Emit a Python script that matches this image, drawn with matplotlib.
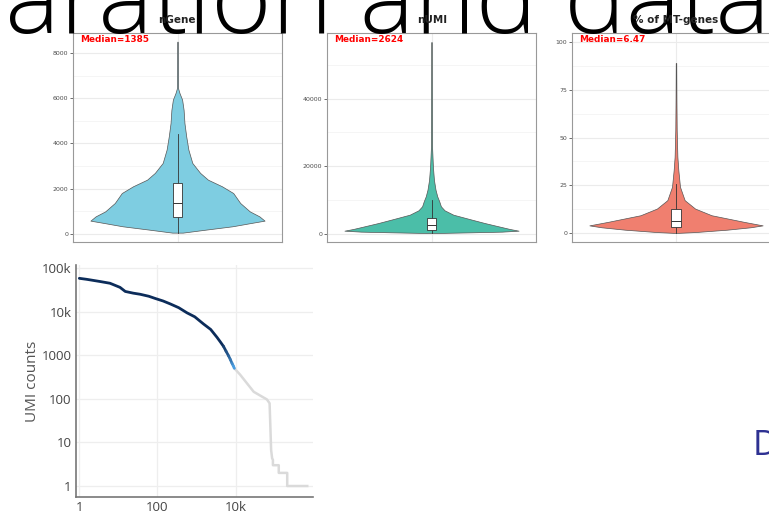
import numpy as np
import matplotlib.pyplot as plt
from matplotlib.collections import LineCollection
from matplotlib.colors import to_rgb

W, H = 769, 519

# violin profiles: value -> relative width (1 = widest)
ngene_vals = [60, 190, 340, 490, 590, 780, 1000, 1370, 1810, 2110, 2400, 2700, 3140, 3730,
              4320, 4900, 5490, 5940, 6230, 6450, 8500]
ngene_dens = [0.06, 0.32, 0.63, 0.85, 1.0, 0.94, 0.83, 0.72, 0.64, 0.51, 0.35, 0.26, 0.17, 0.125,
              0.10, 0.08, 0.07, 0.053, 0.023, 0.006, 0.003]
ngene_box = dict(whislo=60, q1=740, med=1385, q3=2250, whishi=4430)

numi_vals = [300, 500, 700, 985, 1480, 2270, 3250, 4400, 5710, 7000, 8180, 9650, 11130, 13100,
             16000, 20000, 26000, 56700]
numi_dens = [0.06, 0.46, 0.81, 1.0, 0.90, 0.77, 0.61, 0.44, 0.25, 0.15, 0.108, 0.089, 0.066, 0.046,
             0.028, 0.016, 0.006, 0.002]
numi_box = dict(whislo=300, q1=1280, med=2624, q3=4730, whishi=10150)

mt_vals = [0.1, 0.5, 1.75, 3.0, 4.0, 5.8, 9.3, 12.8, 17.2, 24.2, 32.9, 39.9, 54, 70, 89]
mt_dens = [0.034, 0.22, 0.59, 0.86, 1.0, 0.79, 0.41, 0.22, 0.10, 0.046, 0.027, 0.016, 0.008, 0.005, 0.003]
mt_box = dict(whislo=0.1, q1=3.15, med=6.47, q3=12.4, whishi=25.9)

# barcode rank plot
cell_rank = [1, 1.55, 3.4, 6.1, 11, 15, 24, 36, 60, 88, 140, 213, 350, 567, 900, 1510, 2300, 3340,
             4100, 4930]
cell_umi = [58000, 55000, 49000, 44700, 36000, 29000, 26500, 25000, 22500, 20000, 17500, 15000,
            12300, 9400, 7600, 5200, 3900, 2570, 2000, 1580]
mix_rank = [4930, 5700, 6630, 7300, 8100, 8700, 9300]
mix_umi = [1580, 1230, 960, 800, 650, 570, 500]
bg_rank = [9300, 13200, 19500, 29000, 43000, 63000, 74000, 77000, 81000, 86000, 90000, 90000,
           127000, 127000, 209000, 209000, 680000]
bg_umi = [500, 353, 227, 145, 118, 97, 79, 27, 6.7, 4.3, 4, 3, 3, 2, 2, 1, 1]

rank_ticks = [1, 100, 10000]
rank_labels = ["1", "100", "10k"]
umi_ticks = [1, 10, 100, 1000, 10000, 100000]
umi_labels = ["1", "10", "100", "1000", "10k", "100k"]


def px_axes(fig, l, t, r, b):
    return fig.add_axes([l / W, 1 - b / H, (r - l) / W, (b - t) / H])


fig = plt.figure(figsize=(W / 100, H / 100), dpi=100)

# slide title, cut off
big = fig.text(5 / W, 1 - 33 / H, "aration and data", fontsize=60, family="Open Sans",
               fontweight="light", color="black", va="baseline", ha="left", zorder=0)
r = fig.canvas.get_renderer()
wd = big.get_window_extent(r).width
big.set_fontsize(60 * 765 / wd)

fig.text(753 / W, 1 - 455 / H, "D", fontsize=25, family="Open Sans",
         color="#2e3192", va="baseline", ha="left")


def violin(box, vals, dens, st, color, ylim, yticks, minor, title, tcx):
    ax = px_axes(fig, *box)
    vals = np.array(vals)
    dens = np.array(dens)
    ax.fill_betweenx(vals, 1 - 0.5 * dens, 1 + 0.5 * dens, facecolor=color,
                     edgecolor="#555555", linewidth=0.5, zorder=2)
    bp = ax.bxp([dict(st, fliers=[])], positions=[1], widths=0.052, showfliers=False,
                patch_artist=True, showcaps=False)
    for b in bp["boxes"]:
        b.set(facecolor="white", edgecolor="#333333", linewidth=0.6, zorder=3)
    for w in bp["whiskers"]:
        w.set(color="#333333", linewidth=0.6, zorder=2.5)
    for m in bp["medians"]:
        m.set(color="#333333", linewidth=0.7, zorder=4)
    ax.set_xlim(0.4, 1.6)
    ax.set_ylim(*ylim)
    ax.set_xticks([1])
    ax.set_xticklabels([""])
    ax.set_yticks(yticks)
    ax.set_yticks(minor, minor=True)
    ax.tick_params(axis="x", length=0)
    ax.tick_params(axis="y", which="major", length=2, width=0.5, color="#333333",
                   labelsize=4.5, labelcolor="#4d4d4d", pad=1.5)
    ax.tick_params(axis="y", which="minor", length=0)
    ax.grid(True, which="major", color="#ebebeb", linewidth=0.8, zorder=0)
    ax.grid(True, which="minor", axis="y", color="#f2f2f2", linewidth=0.5, zorder=0)
    ax.set_axisbelow(True)
    for s in ax.spines.values():
        s.set_color("#999999")
        s.set_linewidth(0.8)
    ax.text(0.034, 0.971, "Median=%s" % st["med"], transform=ax.transAxes, color="red",
            fontsize=6.4, fontweight="bold", va="center", ha="left")
    fig.text(tcx / W, 1 - 20 / H, title, fontsize=7.5, fontweight="bold", color="#222222",
             ha="center", va="center")
    return ax


violin((73, 33, 282, 242), ngene_vals, ngene_dens, ngene_box, "#7ecde1",
       (-354, 8884), [0, 2000, 4000, 6000, 8000], [1000, 3000, 5000, 7000], "nGene", 177)
violin((327, 33, 536, 242), numi_vals, numi_dens, numi_box, "#4bbea8",
       (-2360, 59380), [0, 20000, 40000], [10000, 30000, 50000], "nUMI", 432)
violin((572, 33, 780, 242), mt_vals, mt_dens, mt_box, "#f07f6f",
       (-4.7, 104.7), [0, 25, 50, 75, 100], [12.5, 37.5, 62.5, 87.5], "% of MT-genes", 676)

# barcode rank plot
ax = px_axes(fig, 75.7, 265, 313, 497)
ax.set_xscale("log")
ax.set_yscale("log")
ax.set_xlim(10 ** -0.092, 10 ** 5.98)
ax.set_ylim(10 ** -0.252, 10 ** 5.069)
ax.plot(bg_rank, bg_umi, color="#dadada", linewidth=1.8, solid_joinstyle="round", zorder=2)
ax.plot(cell_rank, cell_umi, color="#0c2c5a", linewidth=2.0, solid_capstyle="round",
        solid_joinstyle="round", zorder=3)
segs = [[(mix_rank[i], mix_umi[i]), (mix_rank[i + 1], mix_umi[i + 1])] for i in range(len(mix_rank) - 1)]
c0, c1 = np.array(to_rgb("#0c2c5a")), np.array(to_rgb("#4a9de0"))
cols = [c0 + (c1 - c0) * (i + 1) / len(segs) for i in range(len(segs))]
ax.add_collection(LineCollection(segs, colors=cols, linewidths=2.0, capstyle="round", zorder=3))
ax.set_xticks(rank_ticks)
ax.set_xticklabels(rank_labels)
ax.set_yticks(umi_ticks)
ax.set_yticklabels(umi_labels)
ax.minorticks_off()
ax.tick_params(length=0, labelsize=9.5, labelcolor="#444444", pad=3, labelfontfamily="Open Sans")
ax.grid(True, color="#eeeeee", linewidth=0.9)
ax.set_axisbelow(True)
for side in ["top", "right"]:
    ax.spines[side].set_visible(False)
for side in ["left", "bottom"]:
    ax.spines[side].set_color("#777777")
    ax.spines[side].set_linewidth(1.2)
ax.set_ylabel("UMI counts", fontsize=11, color="#555555", family="Open Sans", labelpad=1)

fig.savefig("out.png", dpi=100)
